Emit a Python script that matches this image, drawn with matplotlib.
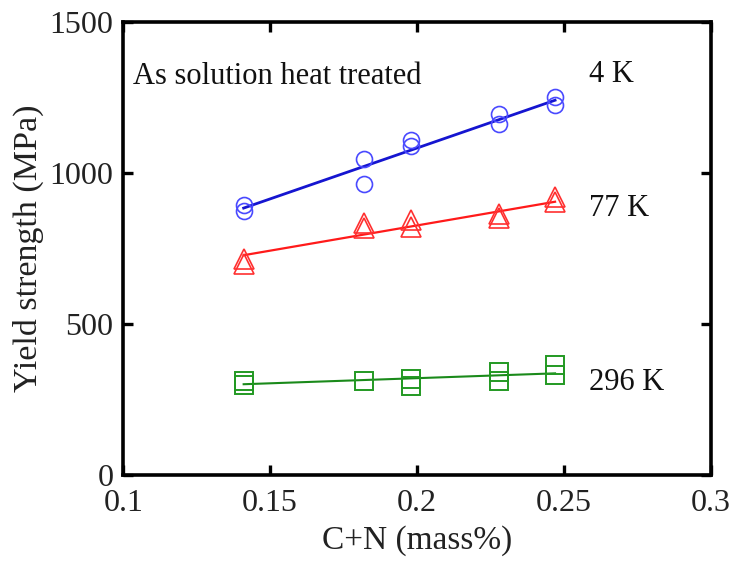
import matplotlib
matplotlib.use("Agg")
import matplotlib.pyplot as plt
import numpy as np

plt.rcParams['font.family'] = ['Liberation Serif', 'DejaVu Serif']

# Data
x_4k = [0.141, 0.141, 0.182, 0.182, 0.198, 0.198, 0.228, 0.228, 0.247, 0.247]
y_4k = [895, 874, 1048, 963, 1108, 1091, 1195, 1162, 1253, 1226]
fit_4k_x = [0.141, 0.247]
fit_4k_y = [884, 1241]

x_77k = [0.141, 0.141, 0.182, 0.182, 0.198, 0.198, 0.228, 0.228, 0.247, 0.247]
y_77k = [717, 700, 834, 817, 844, 821, 866, 850, 920, 903]
fit_77k_x = [0.141, 0.247]
fit_77k_y = [728, 905]

x_296k = [0.141, 0.141, 0.182, 0.198, 0.198, 0.228, 0.228, 0.247, 0.247]
y_296k = [312, 298, 311, 318, 295, 341, 312, 366, 332]
fit_296k_x = [0.141, 0.247]
fit_296k_y = [301, 337]

xticks = [0.1, 0.15, 0.2, 0.25, 0.3]
xticklabels = ['0.1', '0.15', '0.2', '0.25', '0.3']
yticks = [0, 500, 1000, 1500]
yticklabels = ['0', '500', '1000', '1500']

fig = plt.figure(figsize=(7.29, 5.63), dpi=100)
ax = fig.add_axes([0.169, 0.156, 0.806, 0.805])

ax.plot(fit_4k_x, fit_4k_y, color='#1515d0', lw=2.0, zorder=2)
ax.plot(x_4k, y_4k, 'o', ms=11.5, mfc='none', mec='#4a4aff', mew=1.2, zorder=3)

ax.plot(fit_77k_x, fit_77k_y, color='#ff1a1a', lw=1.6, zorder=2)
ax.plot(x_77k, y_77k, '^', ms=14, mfc='none', mec='#ff3030', mew=1.2, zorder=3)

ax.plot(fit_296k_x, fit_296k_y, color='#1a8a1a', lw=1.5, zorder=2)
ax.plot(x_296k, y_296k, 's', ms=13, mfc='none', mec='#229922', mew=1.4, zorder=3)

ax.set_xlim(0.1, 0.3)
ax.set_ylim(0, 1500)
ax.set_xticks(xticks)
ax.set_xticklabels(xticklabels)
ax.set_yticks(yticks)
ax.set_yticklabels(yticklabels)

for s in ax.spines.values():
    s.set_linewidth(2.6)
ax.tick_params(direction='in', length=7, width=2.4, labelsize=23, top=True, right=True,
               color='black', labelcolor='#222222')
ax.tick_params(axis='x', pad=10)
ax.tick_params(axis='y', pad=7)

ax.set_xlabel('C+N (mass%)', fontsize=24, labelpad=5, color='#222222')
ax.set_ylabel('Yield strength (MPa)', fontsize=24.5, labelpad=4, color='#222222')

ax.text(0.1035, 1318, 'As solution heat treated', fontsize=22, va='center', ha='left',
        color='#111111')
ax.text(0.2585, 1325, '4 K', fontsize=22, va='center', ha='left', color='#111111')
ax.text(0.2585, 884, '77 K', fontsize=22, va='center', ha='left', color='#111111')
ax.text(0.2585, 308, '296 K', fontsize=22, va='center', ha='left', color='#111111')

fig.savefig('out.png', dpi=100)
